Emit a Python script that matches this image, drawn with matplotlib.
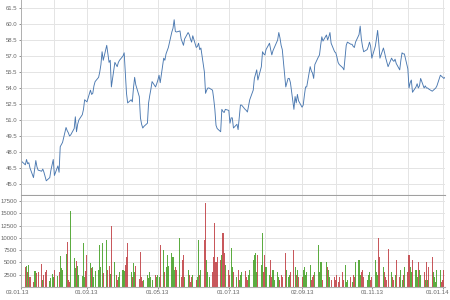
import matplotlib
matplotlib.use('Agg')
import matplotlib.pyplot as plt
import matplotlib.transforms as mtransforms
import numpy as np
import pandas as pd

plt.rcParams['font.family'] = ['Liberation Sans', 'DejaVu Sans']

# business days, 03.01.2013 .. 03.01.2014
dates = pd.bdate_range('2013-01-03', '2014-01-03')

close_jan = [47.2, 47.1, 46.8, 47.3, 46.9, 47.0, 46.5, 45.6, 46.4, 47.2, 46.6, 46.3, 46.2, 46.4,
             46.1, 45.7, 45.3, 45.6, 46.3, 46.8, 47.3]
close_feb = [45.8, 46.7, 46.1, 48.5, 48.7, 48.9, 50.3, 50.0, 49.8, 49.5, 49.6, 50.2, 51.3, 49.9,
             50.6, 51.0, 51.5, 52.0, 52.9, 52.8]
close_mar = [52.7, 53.8, 53.4, 53.5, 54.2, 54.6, 55.0, 55.5, 56.2, 57.4, 56.6, 58.0, 57.2, 56.4,
             56.6, 54.1, 56.4, 56.2, 56.0, 56.4, 56.6]
close_apr = [57.0, 57.3, 55.4, 53.5, 52.6, 52.9, 52.7, 54.0, 55.0, 54.3, 53.2, 51.2, 50.6, 50.25,
             50.4, 50.7, 52.6, 53.3, 53.9, 54.6, 54.1, 54.4]
close_may = [54.75, 55.2, 54.5, 56.8, 56.6, 57.2, 57.5, 57.8, 59.25, 59.6, 60.4, 59.3, 59.25, 59.35,
             58.6, 58.3, 58.0, 58.6, 59.2, 59.0, 58.6, 58.3, 58.9]
close_jun = [57.8, 57.9, 58.2, 57.6, 57.75, 55.5, 53.5, 53.8, 54.0, 54.0, 53.8, 53.0, 52.0, 50.5,
             50.2, 49.9, 52.0, 51.8, 51.7, 52.0]
close_jul = [51.9, 50.7, 51.2, 51.2, 50.25, 50.6, 50.1, 51.3, 52.4, 52.4, 52.0, 51.9, 51.75, 52.3,
             52.9, 53.8, 54.9, 55.3, 55.7, 54.75, 56.0, 57.4, 57.2]
close_aug = [57.1, 57.6, 58.2, 57.6, 57.1, 57.5, 57.75, 58.5, 59.2, 58.7, 58.0, 57.6, 54.1, 54.5,
             54.9, 54.9, 54.5, 52.0, 53.2, 52.6, 53.4, 52.8]
close_sep = [52.2, 52.4, 53.3, 54.1, 54.1, 56.0, 55.6, 55.4, 54.9, 56.2, 56.9, 57.1, 58.0, 58.8,
             58.4, 58.97, 58.5, 58.8, 59.2, 58.2, 57.4]
close_oct = [57.3, 56.9, 56.4, 56.2, 55.9, 55.7, 56.8, 58.0, 58.3, 58.1, 58.1, 57.9, 57.8, 58.3,
             59.0, 59.8, 58.6, 57.9, 57.4, 57.6, 57.9, 58.3, 57.9]
close_nov = [56.8, 57.9, 58.6, 59.4, 58.2, 56.8, 57.75, 57.3, 56.8, 56.4, 56.0, 56.8, 56.6, 56.5,
             56.7, 56.3, 55.7, 56.6, 57.3, 57.2, 57.2]
close_dec = [55.8, 54.0, 54.5, 54.75, 53.6, 54.1, 54.4, 54.0, 54.2, 54.9, 54.0, 54.2, 54.0, 54.0,
             53.9, 53.7, 53.8, 53.9, 54.0, 54.2, 55.2, 55.1]
close_jan14 = [55.0, 54.9, 55.0]

vol_jan = [1200, 2800, 4000, 4300, 3000, 4500, 2000, 1000, 3300, 3200, 2800, 3000, 4700, 1500,
           2500, 3000, 3500, 1200, 1800, 2600, 2000]
vol_feb = [3500, 2200, 3000, 6300, 3800, 3500, 6800, 9200, 1500, 1000, 15500, 5800, 3800, 5200,
           4300, 2500, 2200, 9000, 2000, 3200]
vol_mar = [6500, 4800, 3800, 4000, 2000, 3200, 3500, 8500, 4000, 9000, 2800, 9500, 3500, 4200,
           2600, 12300, 5000, 2500, 1500, 2000, 3000]
vol_apr = [3500, 3200, 4500, 6000, 9000, 3000, 2000, 4800, 3000, 4300, 1700, 7200, 2000, 1200,
           1500, 2500, 1800, 3000, 2000, 1500, 2500, 2000]
vol_may = [2500, 2000, 8600, 7500, 3000, 4000, 6500, 4200, 7000, 6000, 3500, 4000, 3500, 10000,
           2000, 5500, 6500, 2000, 3500, 2500, 1000, 2000, 2500]
vol_jun = [1500, 2000, 9500, 2500, 3500, 9500, 17000, 5500, 3000, 2000, 3000, 6000, 13000, 5000,
           6000, 5500, 6500, 11000, 7000, 4500]
vol_jul = [3500, 2500, 8000, 4000, 3000, 2000, 3500, 1500, 2500, 3000, 3200, 2000, 1500, 2500,
           3500, 5500, 6500, 7000, 3000, 6500, 4500, 11000, 3000]
vol_aug = [6500, 4000, 2500, 5500, 2000, 3500, 1500, 3000, 2000, 1500, 2500, 2000, 7000, 3500,
           2000, 2500, 3000, 7500, 4000, 2500, 3500, 2000]
vol_sep = [2000, 3500, 4000, 2500, 3000, 4500, 1500, 2000, 2500, 3000, 8500, 3000, 5000, 5000,
           1500, 5000, 4000, 3500, 2000, 1500, 2000]
vol_oct = [1500, 2500, 1000, 2000, 3000, 1500, 4500, 1000, 1500, 2000, 1000, 2500, 2000, 5000,
           5500, 2500, 3000, 3500, 2000, 1500, 2500, 3000, 1500]
vol_nov = [2000, 5500, 3000, 2500, 10000, 6000, 4000, 3000, 2000, 1500, 7800, 3000, 2000, 1500,
           2500, 5500, 2000, 3500, 1500, 2500, 4000]
vol_dec = [3000, 6500, 4000, 3000, 5500, 3500, 2000, 5000, 3500, 2500, 3000, 1500, 5000, 1500,
           4000, 6000, 3000, 2000, 1000, 3500, 3500, 1000]
vol_jan14 = [1500, 3500, 1000]

close = np.array(close_jan + close_feb + close_mar + close_apr + close_may + close_jun + close_jul
                 + close_aug + close_sep + close_oct + close_nov + close_dec + close_jan14)
volume = np.array(vol_jan + vol_feb + vol_mar + vol_apr + vol_may + vol_jun + vol_jul
                  + vol_aug + vol_sep + vol_oct + vol_nov + vol_dec + vol_jan14)

label_days = ['2013-01-03', '2013-03-01', '2013-05-01', '2013-07-01', '2013-09-02', '2013-11-01', '2014-01-01']
label_text = ['03.01.13', '01.03.13', '01.05.13', '01.07.13', '02.09.13', '01.11.13', '01.01.14']
grid_days = ['2013-02-01', '2013-04-01', '2013-06-03', '2013-08-01', '2013-10-01', '2013-12-02']
price_ticks = [45.0, 46.5, 48.0, 49.5, 51.0, 52.5, 54.0, 55.5, 57.0, 58.5, 60.0, 61.5]
vol_ticks = [2500, 5000, 7500, 10000, 12500, 15000, 17500]

up = np.concatenate([[True], np.diff(close) >= 0])
bar_colors = np.where(up, '#3f9e1f', '#bf3b3f')

grid_c = '#e4e4e4'
text_c = '#666666'

fig = plt.figure(figsize=(4.5, 3.0), dpi=100)
ax = fig.add_axes([0.046, 0.35, 0.943, 0.65])
axv = fig.add_axes([0.046, 0.0433, 0.943, 0.3034])

major = pd.to_datetime(label_days)
minor = pd.to_datetime(grid_days)

for a in (ax, axv):
    a.set_xlim(dates[0], dates[-1])
    a.set_xticks(major)
    a.set_xticks(minor, minor=True)
    a.grid(True, which='both', color=grid_c, lw=0.7)
    a.set_axisbelow(True)
    for s in ('top', 'right'):
        a.spines[s].set_visible(False)
    a.spines['left'].set_color('#b0b0b0')
    a.spines['left'].set_linewidth(0.7)
    a.spines['bottom'].set_color('#a0a0a0')
    a.spines['bottom'].set_linewidth(0.8)
    a.tick_params(labelsize=4.3, colors=text_c, length=1.5, width=0.5, pad=0.8)
    a.tick_params(which='minor', length=0)

# price line
ax.plot(dates, close, color='#4a78b0', lw=0.65)
ax.set_ylim(43.97, 62.25)
ax.set_yticks(price_ticks)
ax.set_yticklabels(['%.1f' % v for v in price_ticks])
ax.tick_params(axis='x', labelbottom=False, length=0)

# volume bars
axv.bar(dates, volume, width=0.9, color=bar_colors, alpha=0.85, linewidth=0)
axv.set_ylim(0, 18500)
axv.set_yticks(vol_ticks)
axv.set_yticklabels([str(v) for v in vol_ticks])
axv.set_xticklabels(label_text)
axv.spines['bottom'].set_color('#b0b0b0')

# nudge end labels inward, like the original
xlabels = axv.get_xticklabels()
xlabels[0].set_transform(xlabels[0].get_transform() + mtransforms.ScaledTranslation(-3 / 100, 0, fig.dpi_scale_trans))
xlabels[-1].set_transform(xlabels[-1].get_transform() + mtransforms.ScaledTranslation(-5 / 100, 0, fig.dpi_scale_trans))

fig.savefig('out.png', dpi=100)
